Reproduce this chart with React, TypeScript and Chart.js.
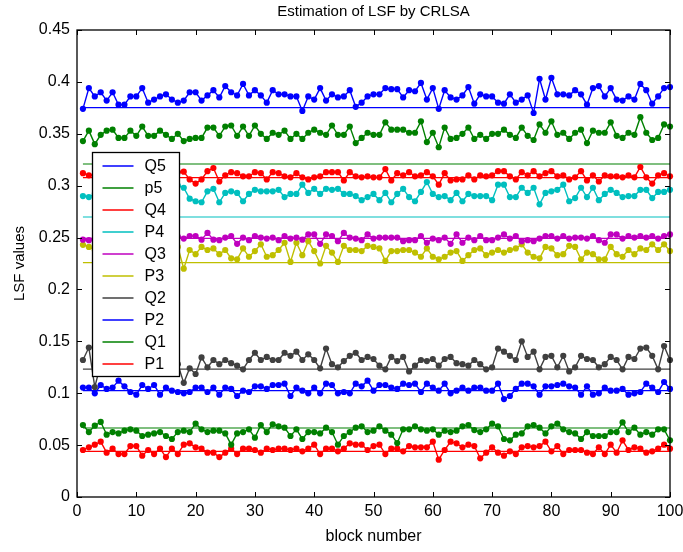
import React, { useEffect, useRef } from 'react';
import { Chart, registerables } from 'chart.js';

Chart.register(...registerables);

// ---------------- data ----------------
const blockNumbers: number[] = Array.from({ length: 100 }, (_, i) => i + 1);

const seriesNames = ['Q5', 'p5', 'Q4', 'P4', 'Q3', 'P3', 'Q2', 'P2', 'Q1', 'P1'];
const seriesColors = ['#0000ff', '#008000', '#ff0000', '#00bfbf', '#bf00bf', '#bfbf00', '#404040', '#0000ff', '#008000', '#ff0000'];
const trueValues = [0.3752, 0.3209, 0.3077, 0.2698, 0.2493, 0.2258, 0.1233, 0.1025, 0.0665, 0.0440];

const q5Est = [
  0.374, 0.394, 0.386, 0.390, 0.382, 0.390, 0.378, 0.378, 0.386, 0.386,
  0.394, 0.380, 0.383, 0.386, 0.388, 0.383, 0.380, 0.382, 0.390, 0.390,
  0.382, 0.387, 0.392, 0.385, 0.396, 0.390, 0.387, 0.398, 0.387, 0.392,
  0.387, 0.380, 0.392, 0.388, 0.388, 0.386, 0.386, 0.372, 0.386, 0.383,
  0.394, 0.382, 0.388, 0.385, 0.386, 0.392, 0.376, 0.380, 0.386, 0.388,
  0.388, 0.394, 0.393, 0.393, 0.385, 0.392, 0.391, 0.399, 0.383, 0.394,
  0.374, 0.392, 0.385, 0.383, 0.387, 0.395, 0.379, 0.388, 0.386, 0.386,
  0.380, 0.379, 0.388, 0.380, 0.383, 0.387, 0.370, 0.403, 0.383, 0.404,
  0.388, 0.388, 0.387, 0.392, 0.388, 0.378, 0.394, 0.396, 0.386, 0.394,
  0.383, 0.382, 0.386, 0.383, 0.398, 0.392, 0.379, 0.386, 0.394, 0.395,
];
const p5Est = [
  0.343, 0.353, 0.340, 0.349, 0.353, 0.354, 0.346, 0.346, 0.353, 0.348,
  0.357, 0.348, 0.348, 0.353, 0.349, 0.345, 0.350, 0.343, 0.345, 0.346,
  0.346, 0.356, 0.356, 0.348, 0.357, 0.358, 0.348, 0.357, 0.348, 0.358,
  0.350, 0.345, 0.351, 0.349, 0.353, 0.345, 0.350, 0.345, 0.351, 0.354,
  0.351, 0.349, 0.358, 0.349, 0.349, 0.357, 0.341, 0.346, 0.351, 0.349,
  0.349, 0.361, 0.354, 0.354, 0.354, 0.351, 0.351, 0.362, 0.342, 0.351,
  0.337, 0.356, 0.345, 0.346, 0.350, 0.356, 0.345, 0.349, 0.345, 0.350,
  0.350, 0.354, 0.349, 0.346, 0.356, 0.348, 0.344, 0.359, 0.351, 0.362,
  0.349, 0.351, 0.345, 0.351, 0.354, 0.341, 0.353, 0.351, 0.351, 0.361,
  0.348, 0.346, 0.351, 0.349, 0.366, 0.351, 0.344, 0.346, 0.359, 0.357,
];
const q4Est = [
  0.312, 0.310, 0.310, 0.313, 0.308, 0.311, 0.306, 0.312, 0.309, 0.314,
  0.307, 0.310, 0.312, 0.308, 0.311, 0.309, 0.313, 0.3135, 0.306, 0.302,
  0.306, 0.314, 0.317, 0.304, 0.310, 0.313, 0.312, 0.309, 0.309, 0.313,
  0.312, 0.306, 0.313, 0.312, 0.309, 0.308, 0.312, 0.308, 0.306, 0.308,
  0.309, 0.313, 0.313, 0.313, 0.305, 0.313, 0.309, 0.308, 0.309, 0.308,
  0.308, 0.316, 0.305, 0.312, 0.310, 0.313, 0.309, 0.310, 0.313, 0.309,
  0.301, 0.312, 0.305, 0.306, 0.306, 0.310, 0.306, 0.310, 0.309, 0.310,
  0.314, 0.314, 0.309, 0.306, 0.313, 0.310, 0.314, 0.309, 0.312, 0.314,
  0.309, 0.310, 0.306, 0.308, 0.314, 0.305, 0.310, 0.304, 0.310, 0.309,
  0.309, 0.308, 0.310, 0.308, 0.318, 0.308, 0.302, 0.310, 0.312, 0.309,
];
const p4Est = [
  0.290, 0.289, 0.292, 0.296, 0.288, 0.293, 0.297, 0.290, 0.294, 0.287,
  0.295, 0.291, 0.298, 0.289, 0.293, 0.296, 0.300, 0.298, 0.2875, 0.285,
  0.284, 0.2945, 0.297, 0.284, 0.293, 0.2945, 0.293, 0.285, 0.292, 0.296,
  0.2945, 0.2945, 0.2945, 0.296, 0.289, 0.292, 0.292, 0.301, 0.293, 0.297,
  0.292, 0.297, 0.296, 0.297, 0.292, 0.292, 0.290, 0.286, 0.289, 0.292,
  0.286, 0.293, 0.284, 0.292, 0.297, 0.289, 0.285, 0.294, 0.3035, 0.292,
  0.289, 0.290, 0.286, 0.293, 0.285, 0.292, 0.290, 0.290, 0.290, 0.286,
  0.301, 0.301, 0.289, 0.289, 0.298, 0.293, 0.298, 0.282, 0.293, 0.2945,
  0.296, 0.301, 0.285, 0.288, 0.298, 0.289, 0.298, 0.286, 0.292, 0.296,
  0.293, 0.289, 0.290, 0.290, 0.296, 0.296, 0.288, 0.294, 0.294, 0.296,
];
const q3Est = [
  0.248, 0.2475, 0.249, 0.251, 0.248, 0.252, 0.250, 0.247, 0.251, 0.249,
  0.253, 0.248, 0.250, 0.252, 0.247, 0.250, 0.251, 0.249, 0.2515, 0.2515,
  0.248, 0.2545, 0.248, 0.2475, 0.250, 0.2515, 0.244, 0.250, 0.2475, 0.2515,
  0.250, 0.249, 0.250, 0.2475, 0.2515, 0.249, 0.250, 0.248, 0.253, 0.253,
  0.244, 0.253, 0.2515, 0.2465, 0.2545, 0.250, 0.249, 0.2475, 0.253, 0.249,
  0.250, 0.250, 0.250, 0.250, 0.2465, 0.2475, 0.2475, 0.2515, 0.245, 0.249,
  0.2475, 0.250, 0.244, 0.253, 0.245, 0.250, 0.2475, 0.2515, 0.2475, 0.2475,
  0.250, 0.253, 0.249, 0.2515, 0.2465, 0.2475, 0.2465, 0.249, 0.2515, 0.2515,
  0.249, 0.2515, 0.249, 0.250, 0.250, 0.249, 0.2515, 0.2475, 0.245, 0.253,
  0.253, 0.249, 0.2515, 0.250, 0.2515, 0.250, 0.2515, 0.249, 0.2515, 0.253,
];
const p3Est = [
  0.243, 0.241, 0.238, 0.242, 0.235, 0.240, 0.237, 0.243, 0.236, 0.239,
  0.241, 0.234, 0.238, 0.242, 0.236, 0.240, 0.241, 0.220, 0.238, 0.234,
  0.241, 0.238, 0.2395, 0.234, 0.238, 0.230, 0.229, 0.2395, 0.2315, 0.237,
  0.2435, 0.2315, 0.233, 0.238, 0.245, 0.2265, 0.245, 0.233, 0.2465, 0.237,
  0.225, 0.242, 0.2355, 0.2265, 0.242, 0.238, 0.238, 0.237, 0.242, 0.241,
  0.2395, 0.2275, 0.237, 0.237, 0.238, 0.238, 0.2355, 0.2315, 0.2395, 0.2315,
  0.229, 0.2315, 0.2355, 0.237, 0.2275, 0.233, 0.238, 0.2395, 0.233, 0.2355,
  0.238, 0.2355, 0.238, 0.2395, 0.2435, 0.2355, 0.2315, 0.230, 0.241, 0.2395,
  0.233, 0.234, 0.242, 0.241, 0.229, 0.2355, 0.234, 0.229, 0.229, 0.241,
  0.234, 0.2315, 0.238, 0.234, 0.2395, 0.238, 0.2435, 0.238, 0.2435, 0.237,
];
const q2Est = [
  0.132, 0.144, 0.106, 0.128, 0.135, 0.124, 0.131, 0.138, 0.127, 0.133,
  0.126, 0.136, 0.129, 0.132, 0.125, 0.134, 0.128, 0.110, 0.124, 0.1185,
  0.1345, 0.125, 0.132, 0.128, 0.132, 0.129, 0.1265, 0.123, 0.132, 0.139,
  0.132, 0.135, 0.132, 0.132, 0.139, 0.136, 0.140, 0.132, 0.1375, 0.132,
  0.124, 0.143, 0.128, 0.125, 0.131, 0.136, 0.139, 0.132, 0.135, 0.133,
  0.1265, 0.123, 0.135, 0.131, 0.135, 0.121, 0.1265, 0.132, 0.131, 0.133,
  0.1265, 0.133, 0.135, 0.129, 0.128, 0.1265, 0.132, 0.128, 0.123, 0.125,
  0.143, 0.140, 0.136, 0.132, 0.150, 0.135, 0.140, 0.123, 0.135, 0.136,
  0.125, 0.136, 0.121, 0.125, 0.136, 0.133, 0.132, 0.125, 0.128, 0.135,
  0.132, 0.123, 0.135, 0.133, 0.143, 0.144, 0.136, 0.123, 0.1455, 0.132,
];
const p2Est = [
  0.1054, 0.1054, 0.0999, 0.1079, 0.1041, 0.1054, 0.1121, 0.1066, 0.1012, 0.0986,
  0.1079, 0.1041, 0.1079, 0.0986, 0.1054, 0.1025, 0.1012, 0.0999, 0.1012, 0.1054,
  0.1054, 0.1012, 0.1054, 0.0986, 0.1054, 0.1041, 0.0973, 0.1025, 0.1012, 0.1066,
  0.1066, 0.1041, 0.1079, 0.1079, 0.1092, 0.0973, 0.1054, 0.1025, 0.0999, 0.1054,
  0.0999, 0.1092, 0.1079, 0.0999, 0.1012, 0.0999, 0.1092, 0.1066, 0.1121, 0.1025,
  0.1079, 0.1079, 0.1054, 0.1041, 0.1092, 0.1079, 0.1092, 0.1012, 0.1092, 0.1054,
  0.1025, 0.1092, 0.0999, 0.1025, 0.1054, 0.1025, 0.1054, 0.1054, 0.1025, 0.1025,
  0.1092, 0.0944, 0.0973, 0.1041, 0.1092, 0.1092, 0.1066, 0.0986, 0.1066, 0.1066,
  0.1079, 0.1092, 0.1066, 0.1054, 0.0986, 0.1066, 0.0986, 0.0999, 0.1054, 0.1025,
  0.1025, 0.1041, 0.0986, 0.0999, 0.1012, 0.1092, 0.1054, 0.1012, 0.1108, 0.1041,
];
const q1Est = [
  0.0694, 0.0626, 0.0687, 0.0723, 0.0601, 0.0626, 0.0613, 0.0639, 0.0652, 0.0639,
  0.0588, 0.0601, 0.0613, 0.0626, 0.0588, 0.0559, 0.0626, 0.0639, 0.0626, 0.0707,
  0.0652, 0.0626, 0.0639, 0.0639, 0.0613, 0.0504, 0.0613, 0.0626, 0.0652, 0.0572,
  0.0694, 0.0626, 0.0700, 0.0681, 0.0668, 0.0588, 0.0652, 0.0559, 0.0626, 0.0626,
  0.0613, 0.0668, 0.0626, 0.0504, 0.0588, 0.0626, 0.0668, 0.0681, 0.0626, 0.0639,
  0.0681, 0.0639, 0.0601, 0.0520, 0.0652, 0.0652, 0.0681, 0.0652, 0.0639, 0.0652,
  0.0601, 0.0639, 0.0626, 0.0639, 0.0681, 0.0694, 0.0645, 0.0626, 0.0652, 0.0707,
  0.0681, 0.0559, 0.0546, 0.0601, 0.0613, 0.0681, 0.0694, 0.0668, 0.0613, 0.0681,
  0.0707, 0.0652, 0.0626, 0.0613, 0.0559, 0.0626, 0.0588, 0.0588, 0.0588, 0.0626,
  0.0626, 0.0719, 0.0626, 0.0668, 0.0601, 0.0626, 0.0601, 0.0652, 0.0652, 0.0546,
];
const p1Est = [
  0.0453, 0.0479, 0.0504, 0.0533, 0.0427, 0.0466, 0.0414, 0.0414, 0.0491, 0.0491,
  0.0398, 0.0453, 0.0414, 0.0466, 0.0385, 0.0466, 0.0414, 0.0504, 0.0517, 0.0479,
  0.0466, 0.0427, 0.0427, 0.0385, 0.0427, 0.0466, 0.0414, 0.0466, 0.0466, 0.0453,
  0.0427, 0.0466, 0.0453, 0.0466, 0.0466, 0.0453, 0.0466, 0.0440, 0.0466, 0.0504,
  0.0414, 0.0466, 0.0466, 0.0440, 0.0466, 0.0517, 0.0504, 0.0504, 0.0453, 0.0491,
  0.0504, 0.0414, 0.0466, 0.0466, 0.0440, 0.0491, 0.0479, 0.0479, 0.0479, 0.0533,
  0.0360, 0.0453, 0.0533, 0.0517, 0.0479, 0.0504, 0.0491, 0.0373, 0.0427, 0.0479,
  0.0427, 0.0398, 0.0440, 0.0414, 0.0479, 0.0491, 0.0479, 0.0491, 0.0533, 0.0440,
  0.0491, 0.0414, 0.0453, 0.0453, 0.0453, 0.0427, 0.0414, 0.0479, 0.0414, 0.0504,
  0.0427, 0.0546, 0.0453, 0.0479, 0.0466, 0.0427, 0.0440, 0.0466, 0.0504, 0.0466,
];

const estimates = [q5Est, p5Est, q4Est, p4Est, q3Est, p3Est, q2Est, p2Est, q1Est, p1Est];

const xTickValues = [0, 10, 20, 30, 40, 50, 60, 70, 80, 90, 100];
const xTickLabels = ['0', '10', '20', '30', '40', '50', '60', '70', '80', '90', '100'];
const yTickValues = [0, 0.05, 0.1, 0.15, 0.2, 0.25, 0.3, 0.35, 0.4, 0.45];
const yTickLabels = ['0', '0.05', '0.1', '0.15', '0.2', '0.25', '0.3', '0.35', '0.4', '0.45'];

const FONT = '"Liberation Sans", Arial, Helvetica, sans-serif';

// ---------------- plugins ----------------
const frameAndLegendPlugin = {
  id: 'frameAndLegend',
  afterDatasetsDraw(chart: any) {
    const { ctx, chartArea: a, scales } = chart;
    const xs = scales.x;
    const ys = scales.y;
    ctx.save();
    // frame
    ctx.strokeStyle = '#000';
    ctx.lineWidth = 1.3;
    ctx.strokeRect(a.left, a.top, a.right - a.left, a.bottom - a.top);
    // inward ticks on all four sides
    const tl = 5;
    ctx.lineWidth = 1;
    ctx.beginPath();
    xTickValues.forEach((v) => {
      const px = Math.round(xs.getPixelForValue(v)) + 0.5;
      ctx.moveTo(px, a.bottom);
      ctx.lineTo(px, a.bottom - tl);
      ctx.moveTo(px, a.top);
      ctx.lineTo(px, a.top + tl);
    });
    yTickValues.forEach((v) => {
      const py = Math.round(ys.getPixelForValue(v)) + 0.5;
      ctx.moveTo(a.left, py);
      ctx.lineTo(a.left + tl, py);
      ctx.moveTo(a.right, py);
      ctx.lineTo(a.right - tl, py);
    });
    ctx.stroke();

    // legend box (opaque, inside the axes)
    const x0 = Math.round(a.left + 15) + 0.5;
    const y0 = Math.round(a.top + 122) + 0.5;
    const w = 87;
    const h = 224;
    ctx.fillStyle = '#ffffff';
    ctx.fillRect(x0, y0, w, h);
    ctx.strokeStyle = '#000';
    ctx.lineWidth = 1.3;
    ctx.strokeRect(x0, y0, w, h);
    ctx.font = `16px ${FONT}`;
    ctx.textBaseline = 'middle';
    ctx.textAlign = 'left';
    const lineDs = chart.data.datasets.filter((d: any) => d.isTrueLine);
    lineDs.forEach((d: any, k: number) => {
      const yy = y0 + 13.5 + k * 22;
      ctx.strokeStyle = d.borderColor;
      ctx.lineWidth = 1.5;
      ctx.beginPath();
      ctx.moveTo(x0 + 10, yy);
      ctx.lineTo(x0 + 41, yy);
      ctx.stroke();
      ctx.fillStyle = '#000';
      ctx.fillText(d.label, x0 + 52, yy + 1);
    });
    ctx.restore();
  },
};

// ---------------- component ----------------
export default function App() {
  const canvasRef = useRef<HTMLCanvasElement | null>(null);

  useEffect(() => {
    const canvas = canvasRef.current;
    if (!canvas) return;

    const lineDatasets = seriesNames.map((name, k) => ({
      label: name,
      isTrueLine: true,
      data: [
        { x: blockNumbers[0], y: trueValues[k] },
        { x: blockNumbers[blockNumbers.length - 1], y: trueValues[k] },
      ],
      borderColor: seriesColors[k],
      borderWidth: 1.2,
      pointRadius: 0,
      fill: false,
      order: 2,
      clip: false as any,
    }));

    const estDatasets = seriesNames.map((name, k) => ({
      label: name + ' estimate',
      isTrueLine: false,
      data: blockNumbers.map((b, i) => ({ x: b, y: estimates[k][i] })),
      borderColor: seriesColors[k],
      backgroundColor: seriesColors[k],
      borderWidth: 1.4,
      pointRadius: 3.1,
      pointBorderWidth: 0,
      pointBackgroundColor: seriesColors[k],
      fill: false,
      order: 1,
      clip: false as any,
    }));

    const chart = new Chart(canvas, {
      type: 'line',
      data: { datasets: [...lineDatasets, ...estDatasets] as any },
      options: {
        animation: false,
        responsive: false,
        devicePixelRatio: 1,
        events: [],
        layout: { padding: { left: 0, right: 13, top: 0, bottom: 0 } },
        plugins: {
          legend: { display: false },
          tooltip: { enabled: false },
          title: {
            display: true,
            text: 'Estimation of LSF by CRLSA',
            color: '#000',
            fullSize: false,
            font: { family: FONT, size: 15, weight: 'normal' as any },
            padding: { top: 3, bottom: 9 },
          },
        },
        scales: {
          x: {
            type: 'linear',
            min: 0,
            max: 100,
            afterFit: (s: any) => { s.height = 55; s.paddingRight = 0; s.paddingLeft = 0; },
            afterBuildTicks: (s: any) => { s.ticks = xTickValues.map((v) => ({ value: v })); },
            grid: { display: false, drawTicks: false },
            border: { display: false },
            ticks: {
              color: '#000',
              padding: 5,
              maxRotation: 0,
              autoSkip: false,
              font: { family: FONT, size: 16 },
              callback: (_v: any, i: number) => xTickLabels[i],
            },
            title: {
              display: true,
              text: 'block number',
              color: '#000',
              font: { family: FONT, size: 16 },
              padding: { top: 0, bottom: 6 },
            },
          },
          y: {
            type: 'linear',
            min: 0,
            max: 0.45,
            afterFit: (s: any) => { s.width = 77; },
            afterBuildTicks: (s: any) => { s.ticks = yTickValues.map((v) => ({ value: v })); },
            grid: { display: false, drawTicks: false },
            border: { display: false },
            ticks: {
              color: '#000',
              padding: 7,
              autoSkip: false,
              font: { family: FONT, size: 16 },
              callback: (_v: any, i: number) => yTickLabels[i],
            },
            title: {
              display: true,
              text: 'LSF values',
              color: '#000',
              font: { family: FONT, size: 15 },
              padding: { top: 11, bottom: 0 },
            },
          },
        },
      },
      plugins: [frameAndLegendPlugin],
    });

    return () => chart.destroy();
  }, []);

  return (
    <div style={{ position: 'fixed', left: 0, top: 0, width: 683, height: 552, background: '#fff' }}>
      <canvas ref={canvasRef} width={683} height={552} style={{ width: 683, height: 552, display: 'block' }} />
    </div>
  );
}
